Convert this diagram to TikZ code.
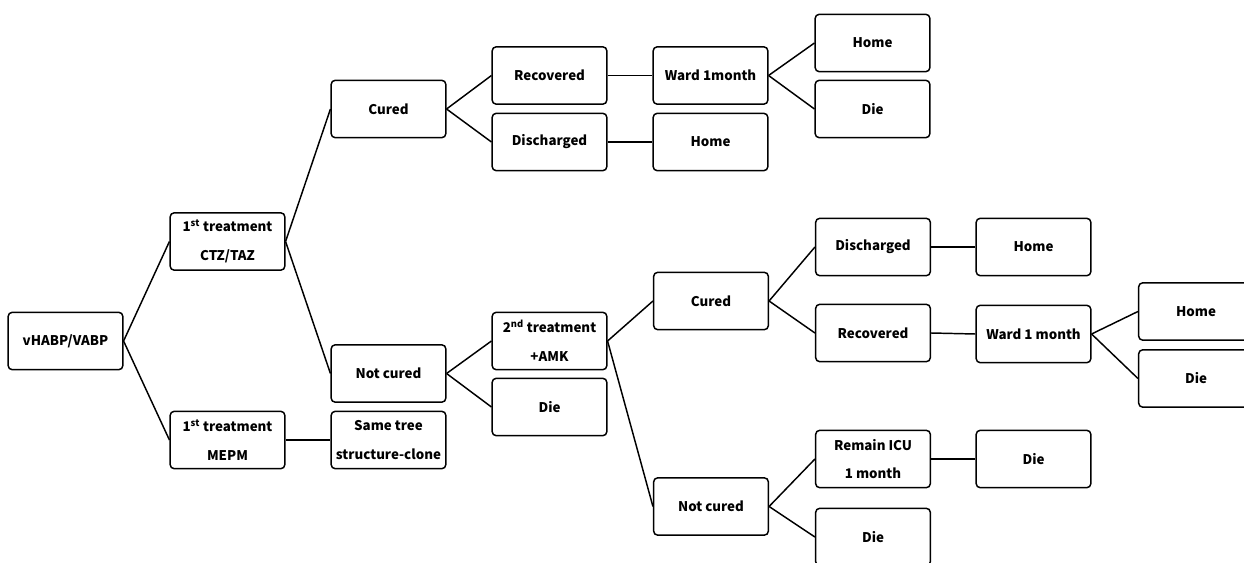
\documentclass[tikz,border=0pt]{standalone}
\usepackage{fontspec}
\setmainfont{Noto Sans CJK JP}
\begin{document}
\begin{tikzpicture}[x=0.75pt,y=-0.75pt,
  box/.style={draw, line width=1.1pt, rounded corners=3pt, minimum width=86pt, minimum height=43pt,
    align=center, inner sep=0pt, font=\bfseries\fontsize{10}{21.5}\selectfont},
  link/.style={line width=1.1pt}]
\useasboundingbox (0,0) rectangle (1244,563);
\clip (0,0) rectangle (1244,563);
\node[box] (root) at (65.5,341) {vHABP/VABP};
\node[box] (t1a) at (227.5,241.5) {1\textsuperscript{st} treatment\\CTZ/TAZ};
\node[box] (t1b) at (227.5,440) {1\textsuperscript{st} treatment\\MEPM};
\node[box] (cured1) at (388.5,109) {Cured};
\node[box] (nc1) at (388.5,373.5) {Not cured};
\node[box] (same) at (388.5,440) {Same tree\\structure-clone};
\node[box] (rec1) at (549.5,75.5) {Recovered};
\node[box] (dis1) at (549.5,142) {Discharged};
\node[box] (ward1) at (710.5,75.5) {Ward 1month};
\node[box] (home1) at (710.5,142) {Home};
\node[box] (home2) at (872.5,43) {Home};
\node[box] (die1) at (872.5,109) {Die};
\node[box] (t2) at (549.5,341) {2\textsuperscript{nd} treatment\\+AMK};
\node[box] (die2) at (549.5,407) {Die};
\node[box] (cured2) at (711,301) {Cured};
\node[box] (nc2) at (711,506.5) {Not cured};
\node[box] (dis2) at (873,247) {Discharged};
\node[box] (rec2) at (873,333) {Recovered};
\node[box] (home3) at (1033.5,247) {Home};
\node[box] (ward2) at (1033.5,334) {Ward 1 month};
\node[box] (home4) at (1196,311.5) {Home};
\node[box] (die3) at (1196,378.5) {Die};
\node[box] (icu) at (873,459) {Remain ICU\\1 month};
\node[box] (die4) at (1033.5,459) {Die};
\node[box] (die5) at (873,537) {Die};
\foreach \a/\b in {root/t1a,root/t1b,t1a/cured1,t1a/nc1,t1b/same,cured1/rec1,cured1/dis1,
  rec1/ward1,dis1/home1,ward1/home2,ward1/die1,nc1/t2,nc1/die2,t2/cured2,t2/nc2,
  cured2/dis2,cured2/rec2,dis2/home3,rec2/ward2,ward2/home4,ward2/die3,nc2/icu,nc2/die5,icu/die4}
  \draw[link] (\a.east) -- (\b.west);
\end{tikzpicture}
\end{document}
